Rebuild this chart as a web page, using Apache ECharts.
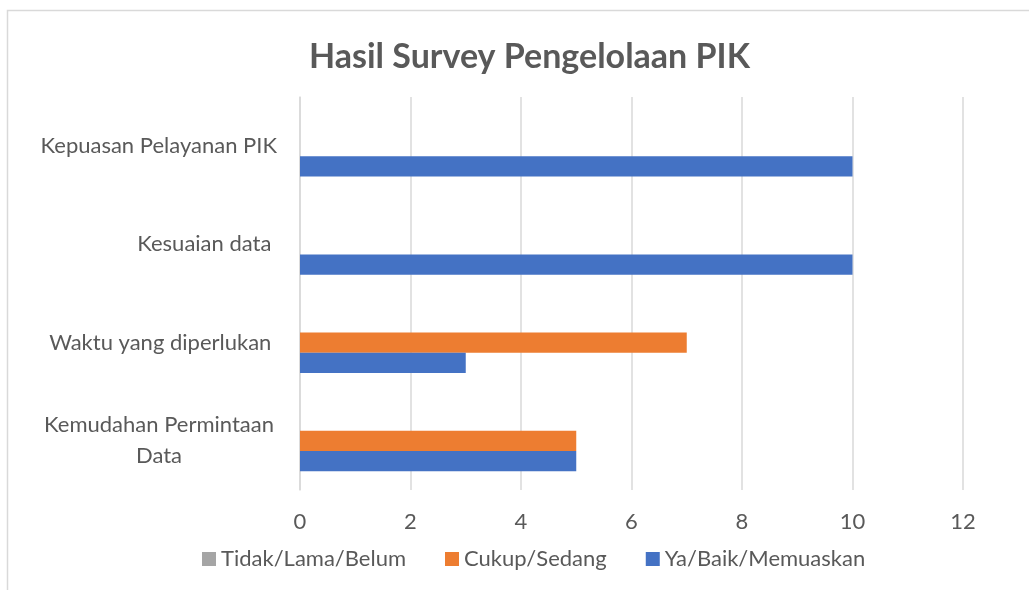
<!DOCTYPE html>
<html>
<head>
<meta charset="utf-8">
<script src="https://cdn.jsdelivr.net/npm/echarts@6/dist/echarts.min.js"></script>
<style>
html,body{margin:0;padding:0;background:#fff;}
#c{width:1029px;height:590px;}
</style>
</head>
<body>
<div id="c"></div>
<script>
const categories = ['Kemudahan Permintaan Data', 'Waktu yang diperlukan ', 'Kesuaian data ', 'Kepuasan Pelayanan PIK'];
const seriesNames = ['Tidak/Lama/Belum', 'Cukup/Sedang', 'Ya/Baik/Memuaskan'];
const tidak = [0, 0, 0, 0];
const cukup = [5, 7, 0, 0];
const ya = [5, 3, 10, 10];
const xTicks = [0, 2, 4, 6, 8, 10, 12];
const colors = ['#a5a5a5', '#ed7d31', '#4472c4'];

const FONT = 'Lato';
const TXT = '#595959';
const chart = echarts.init(document.getElementById('c'), null, {renderer: 'canvas'});

const seriesData = [tidak, cukup, ya];
const series = seriesNames.map((n, i) => ({
  name: n,
  type: 'bar',
  data: seriesData[i],
  barGap: '0%',
  barCategoryGap: '38%',
  itemStyle: {color: colors[i]},
  emphasis: {disabled: true}
}));

chart.setOption({
  animation: false,
  textStyle: {fontFamily: FONT},
  title: {
    text: 'Hasil Survey Pengelolaan PIK',
    left: 304,
    top: 35,
    textStyle: {fontFamily: FONT, fontSize: 34, fontWeight: 'bold', color: TXT}
  },
  graphic: [{
    type: 'rect',
    shape: {x: 7.5, y: 10.5, width: 1100, height: 700},
    style: {fill: 'none', stroke: '#d9d9d9', lineWidth: 1.5},
    silent: true
  }],
  legend: {
    data: seriesNames,
    bottom: 15,
    left: 197,
    itemWidth: 14,
    itemHeight: 14,
    itemGap: 39,
    icon: 'rect',
    textStyle: {fontFamily: FONT, fontSize: 22, color: TXT}
  },
  grid: {left: 300, right: 66, top: 97, bottom: 100, containLabel: false},
  xAxis: {
    type: 'value',
    min: xTicks[0],
    max: xTicks[xTicks.length - 1],
    interval: 2,
    axisLine: {show: false},
    axisTick: {show: false},
    splitLine: {lineStyle: {color: '#d9d9d9', width: 1.5}},
    axisLabel: {fontFamily: FONT, fontSize: 22, color: TXT, margin: 21}
  },
  yAxis: {
    type: 'category',
    data: categories,
    axisLine: {show: true, lineStyle: {color: '#d9d9d9', width: 1.5}},
    axisTick: {show: false},
    axisLabel: {
      fontFamily: FONT, fontSize: 22, color: TXT, margin: 23,
      formatter: function (v) {
        if (v === 'Kemudahan Permintaan Data') {
          return '{w|Kemudahan Permintaan}\n{w|Data}';
        }
        return v;
      },
      rich: {w: {fontFamily: FONT, fontSize: 22, color: TXT, width: 236, align: 'center', lineHeight: 31}}
    }
  },
  series: series
});
</script>
</body>
</html>
